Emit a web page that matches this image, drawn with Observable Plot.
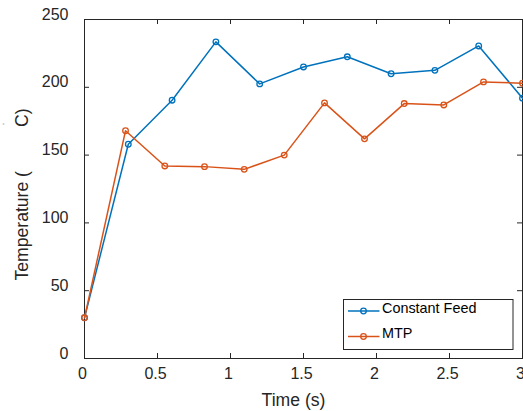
<!DOCTYPE html>
<html><head><meta charset="utf-8">
<script src="https://cdn.jsdelivr.net/npm/d3@7"></script>
<script src="https://cdn.jsdelivr.net/npm/@observablehq/plot@0.6"></script>
<style>body{margin:0;background:#fff}</style>
</head><body><div id="chart"></div>
<script>
const cfTime = [0, 0.3, 0.6, 0.9, 1.2, 1.5, 1.8, 2.1, 2.4, 2.7, 3.0];
const cfTemp = [30, 158, 190.5, 233.5, 202.5, 215, 222.5, 210, 212.5, 230.5, 192];
const mtpTime = [0, 0.281, 0.55, 0.822, 1.094, 1.368, 1.644, 1.918, 2.19, 2.461, 2.733, 3.0];
const mtpTemp = [30, 168, 142, 141.5, 139.5, 150, 188.5, 162, 188, 187, 204, 203];
const seriesNames = ["Constant Feed", "MTP"];
const seriesColors = ["#0072BD", "#D95319"];
const xTicks = [0, 0.5, 1, 1.5, 2, 2.5, 3];
const xTickLabels = ["0", "0.5", "1", "1.5", "2", "2.5", "3"];
const yTicks = [0, 50, 100, 150, 200, 250];
const yTickLabels = ["0", "50", "100", "150", "200", "250"];
const xLabel = "Time (s)";
const yLabel = "Temperature (" + "\u00A0".repeat(9) + "C)";
const degreeMark = "°";

const cf = cfTime.map((t, i) => ({t, v: cfTemp[i]}));
const mtp = mtpTime.map((t, i) => ({t, v: mtpTemp[i]}));
const ink = "#262626";
const font = "'Liberation Sans', Arial, Helvetica, sans-serif";

const chart = Plot.plot({
  width: 523, height: 411,
  marginLeft: 84, marginRight: 1, marginTop: 19, marginBottom: 53,
  style: {fontFamily: font, fontSize: "16px", background: "#fff", color: ink},
  x: {domain: [0, 3]},
  y: {domain: [0, 250]},
  marks: [
    Plot.frame({stroke: ink, strokeWidth: 1}),
    Plot.ruleX(xTicks, {x: d => d, insetTop: 334, stroke: ink}),
    Plot.ruleX(xTicks, {x: d => d, insetBottom: 334, stroke: ink}),
    Plot.ruleY(yTicks, {y: d => d, insetRight: 433, stroke: ink}),
    Plot.ruleY(yTicks, {y: d => d, insetLeft: 433, stroke: ink}),
    Plot.axisX({ticks: xTicks, tickSize: 0, tickPadding: 9, fontSize: 16, dx: -2,
      tickFormat: d => xTickLabels[xTicks.indexOf(d)], label: null, color: ink}),
    Plot.axisY({ticks: yTicks, tickSize: 0, tickPadding: 16, fontSize: 16, dy: -5,
      tickFormat: d => yTickLabels[yTicks.indexOf(d)], label: null, color: ink}),
    Plot.text([xLabel], {frameAnchor: "bottom", textAnchor: "middle", lineAnchor: "middle",
      dx: -10, dy: 41.4, fontSize: 17.6, fill: ink}),
    Plot.text([yLabel], {frameAnchor: "left", textAnchor: "middle", lineAnchor: "middle",
      dx: -62, dy: 5.5, rotate: -90, fontSize: 17.6, fill: ink}),
    Plot.text([degreeMark], {frameAnchor: "top-left", textAnchor: "middle", lineAnchor: "middle",
      dx: -81, dy: 106, fontSize: 6, fill: "#999"}),
    Plot.line(cf, {x: "t", y: "v", stroke: seriesColors[0], strokeWidth: 1.5}),
    Plot.dot(cf, {x: "t", y: "v", stroke: seriesColors[0], strokeWidth: 1.3, r: 2.8, fill: "none"}),
    Plot.line(mtp, {x: "t", y: "v", stroke: seriesColors[1], strokeWidth: 1.5}),
    Plot.dot(mtp, {x: "t", y: "v", stroke: seriesColors[1], strokeWidth: 1.3, r: 2.8, fill: "none"})
  ]
});

const svg = d3.select(chart);
const lg = svg.append("g");
lg.append("rect").attr("x", 343.5).attr("y", 299.5).attr("width", 169.5).attr("height", 50)
  .attr("fill", "#fff").attr("stroke", ink).attr("stroke-width", 1);
seriesNames.forEach((name, i) => {
  const y = 311 + i * 25.5;
  lg.append("line").attr("x1", 348).attr("x2", 379.5).attr("y1", y).attr("y2", y)
    .attr("stroke", seriesColors[i]).attr("stroke-width", 1.5);
  lg.append("circle").attr("cx", 363.5).attr("cy", y).attr("r", 2.8)
    .attr("fill", "none").attr("stroke", seriesColors[i]).attr("stroke-width", 1.3);
  lg.append("text").attr("x", 382).attr("y", y + 1.5).attr("font-size", 14.4)
    .attr("text-anchor", "start").attr("font-family", font).attr("fill", "#000").text(name);
});
document.getElementById("chart").appendChild(chart);
</script>
</body></html>
